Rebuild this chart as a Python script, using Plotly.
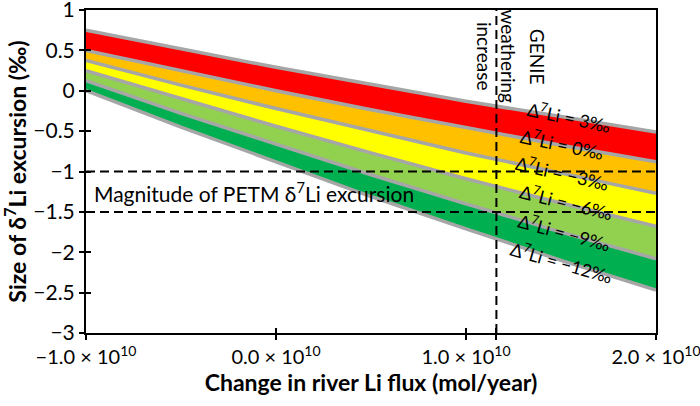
import plotly.graph_objects as go

# River Li flux change (mol/year)
flux = [-1.0e10, -0.5e10, 0.0, 0.5e10, 1.0e10, 1.5e10, 2.0e10]

# Size of d7Li excursion for each Delta7Li value (permil)
d_p3 = [0.75, 0.52, 0.29, 0.08, -0.13, -0.32, -0.51]
d_0 = [0.50, 0.245, 0.00, -0.235, -0.46, -0.675, -0.88]
d_m3 = [0.375, 0.07, -0.22, -0.50, -0.77, -1.02, -1.27]
d_m6 = [0.25, -0.10, -0.44, -0.77, -1.09, -1.39, -1.68]
d_m9 = [0.125, -0.28, -0.66, -1.04, -1.40, -1.75, -2.08]
d_m12 = [0.0, -0.45, -0.88, -1.31, -1.71, -2.10, -2.47]

line_labels = ["Δ<sup>7</sup>Li = 3‰", "Δ<sup>7</sup>Li = 0‰", "Δ<sup>7</sup>Li = −3‰",
               "Δ<sup>7</sup>Li = −6‰", "Δ<sup>7</sup>Li = −9‰", "Δ<sup>7</sup>Li = −12‰"]
label_x = [1.542e10, 1.505e10, 1.51e10, 1.53e10, 1.516e10, 1.50e10]
label_y = [-0.325, -0.66, -1.02, -1.378, -1.75, -2.12]
label_angle = [12, 12, 13, 14, 15, 16]

petm_range = [-1.0, -1.5]
genie_flux = 1.16e10

x_tickvals = [-1.0e10, 0.0, 1.0e10, 2.0e10, genie_flux]
x_ticktext = ["−1.0 × 10<sup>10</sup>", "0.0 × 10<sup>10</sup>", "1.0 × 10<sup>10</sup>",
              "2.0 × 10<sup>10</sup>", ""]
y_tickvals = [1, 0.5, 0, -0.5, -1, -1.5, -2, -2.5, -3]
y_ticktext = ["1", "0.5", "0", "−0.5", "−1", "−1.5", "−2", "−2.5", "−3"]

lines = [d_m12, d_m9, d_m6, d_m3, d_0, d_p3]
fills = [None, "#00B050", "#92D050", "#FFFF00", "#FFC000", "#FF0000"]

FONT = "Lato"
fig = go.Figure()

for vals, col in zip(lines, fills):
    fig.add_trace(go.Scatter(
        x=flux, y=vals, mode="lines", line=dict(width=0, color="rgba(0,0,0,0)"),
        fill=None if col is None else "tonexty", fillcolor=col,
        hoverinfo="skip", showlegend=False))

for vals in lines:
    fig.add_trace(go.Scatter(
        x=flux, y=vals, mode="lines", line=dict(width=3.5, color="#A6A6A6"),
        hoverinfo="skip", showlegend=False))

# dashed PETM range lines
for yv in petm_range:
    fig.add_trace(go.Scatter(
        x=[flux[0], flux[-1]], y=[yv, yv], mode="lines",
        line=dict(color="black", width=2, dash="9px,5px"),
        hoverinfo="skip", showlegend=False))

# GENIE weathering increase line
fig.add_trace(go.Scatter(
    x=[genie_flux, genie_flux], y=[y_tickvals[-1], y_tickvals[0]], mode="lines",
    line=dict(color="black", width=2, dash="9px,5px"),
    hoverinfo="skip", showlegend=False))

annotations = []
for t, xv, yv, ang in zip(line_labels, label_x, label_y, label_angle):
    annotations.append(dict(x=xv, y=yv, text=t, showarrow=False, textangle=ang,
                            font=dict(family=FONT, size=18, color="black")))

annotations.append(dict(x=-0.968e10, y=-1.25, text="Magnitude of PETM δ<sup>7</sup>Li excursion",
                        xanchor="left", showarrow=False,
                        font=dict(family=FONT, size=21, color="black")))
annotations.append(dict(x=genie_flux, y=0.42, text="weathering<br>increase",
                        showarrow=False, textangle=90,
                        font=dict(family=FONT, size=19, color="black")))
annotations.append(dict(x=1.374e10, y=0.42, text="GENIE",
                        showarrow=False, textangle=90,
                        font=dict(family=FONT, size=19, color="black")))

axis_common = dict(showgrid=False, zeroline=False, showline=True, linecolor="black",
                   linewidth=2, mirror=True, ticks="outside", ticklen=5, tickwidth=2,
                   tickcolor="black", automargin=False, ticklabeloverflow="allow")

fig.update_layout(
    width=700, height=406,
    margin=dict(l=86, r=44, t=10, b=73),
    paper_bgcolor="white", plot_bgcolor="white",
    font=dict(family=FONT, size=18, color="black"),
    annotations=annotations,
    xaxis=dict(range=[-1.0e10, 2.0e10], tickvals=x_tickvals, ticktext=x_ticktext,
               tickfont=dict(family=FONT, size=20),
               title=dict(text="<b>Change in river Li flux (mol/year)</b>",
                          font=dict(family=FONT, size=23), standoff=8),
               **axis_common),
    yaxis=dict(range=[-3, 1], tickvals=y_tickvals, ticktext=y_ticktext,
               tickfont=dict(family=FONT, size=21),
               title=dict(text="<b>Size of δ<sup>7</sup>Li excursion (‰)</b>",
                          font=dict(family=FONT, size=23), standoff=4),
               **axis_common),
    # overlay axes that add the inward half of each crossing tick
    xaxis2=dict(range=[-1.0e10, 2.0e10], tickvals=x_tickvals, overlaying="x",
                showticklabels=False, showgrid=False, zeroline=False, showline=False,
                ticks="inside", ticklen=5, tickwidth=2, tickcolor="black", automargin=False),
    yaxis2=dict(range=[-3, 1], tickvals=y_tickvals, overlaying="y",
                showticklabels=False, showgrid=False, zeroline=False, showline=False,
                ticks="inside", ticklen=5, tickwidth=2, tickcolor="black", automargin=False),
)

# invisible trace to activate the overlay axes
fig.add_trace(go.Scatter(x=[flux[0]], y=[y_tickvals[0]], xaxis="x2", yaxis="y2",
                         mode="markers", marker=dict(opacity=0), hoverinfo="skip",
                         showlegend=False))

fig.write_html("out.html", config={"displayModeBar": False},
               post_script="document.body.style.margin='0';document.body.style.overflow='hidden';")
